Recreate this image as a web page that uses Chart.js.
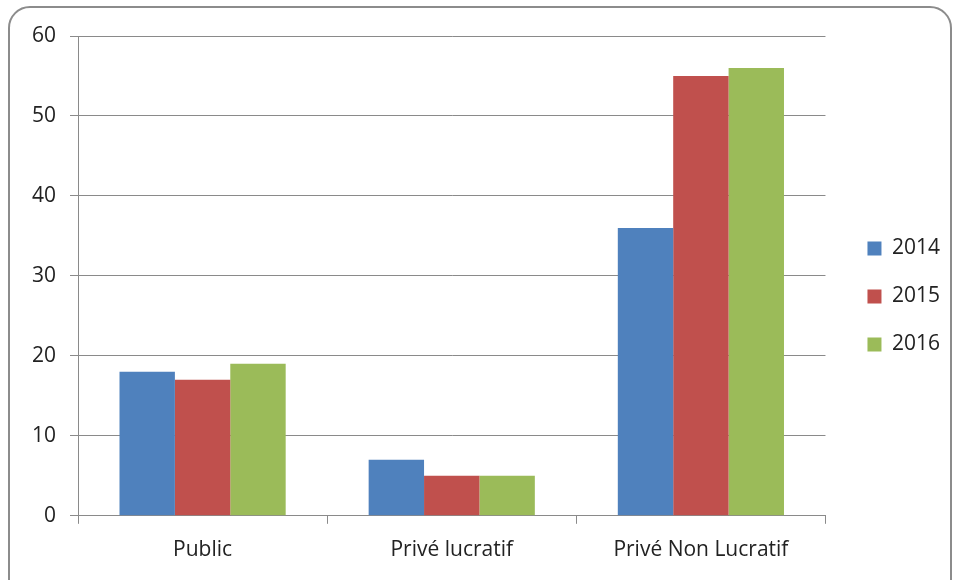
<!DOCTYPE html>
<html>
<head>
<meta charset="utf-8">
<script src="https://cdn.jsdelivr.net/npm/chart.js@4"></script>
<style>
  html, body { margin: 0; padding: 0; background: #fff; }
  #wrap { position: relative; width: 957px; height: 580px; overflow: hidden; }
  #frame {
    position: absolute; left: 8px; top: 6px; width: 940px; height: 600px;
    border: 2px solid #8c8c8c; border-radius: 22px; pointer-events: none;
  }
  canvas { position: absolute; left: 0; top: 0; }
</style>
</head>
<body>
<div id="wrap">
  <canvas id="chart" width="957" height="580"></canvas>
  <div id="frame"></div>
</div>
<script>
// categories and series
const categories = ['Public', 'Privé lucratif', 'Privé Non Lucratif'];
const years = ['2014', '2015', '2016'];
const values2014 = [18, 7, 36];
const values2015 = [17, 5, 55];
const values2016 = [19, 5, 56];
const yTicks = [0, 10, 20, 30, 40, 50, 60];

const colors = ['#4F81BD', '#C0504D', '#9BBB59'];
const gridColor = '#8a8a8a';
const fontFamily = '"Open Sans", "Liberation Sans", sans-serif';

// nudge the legend a bit further from the plot, like the Excel original
const legendShift = {
    id: 'legendShift',
    afterUpdate(chart) {
        const l = chart.legend;
        if (!l) return;
        l.left += 15;
        l.right += 15;
        l.top -= 10;
        l.bottom -= 10;
    }
};

const ctx = document.getElementById('chart').getContext('2d');
new Chart(ctx, {
    type: 'bar',
    data: {
        labels: categories,
        datasets: [values2014, values2015, values2016].map((vals, i) => ({
            label: years[i],
            data: vals,
            backgroundColor: colors[i],
            borderWidth: 0,
            categoryPercentage: 0.667,
            barPercentage: 1.0
        }))
    },
    options: {
        responsive: false,
        animation: false,
        layout: {
            padding: { left: 18, top: 36, right: 22, bottom: 3 }
        },
        plugins: {
            tooltip: { enabled: false },
            legend: {
                position: 'right',
                labels: {
                    color: '#222',
                    font: { family: fontFamily, size: 21 },
                    boxWidth: 14,
                    boxHeight: 14,
                    padding: 27
                }
            }
        },
        scales: {
            x: {
                offset: true,
                grid: {
                    offset: true,
                    drawOnChartArea: false,
                    tickLength: 8,
                    color: gridColor
                },
                border: { color: gridColor, width: 1 },
                ticks: {
                    color: '#222',
                    padding: 14,
                    font: { family: fontFamily, size: 21 }
                }
            },
            y: {
                min: 0,
                max: 60,
                afterBuildTicks: axis => {
                    axis.ticks = yTicks.map(v => ({ value: v }));
                },
                grid: {
                    color: gridColor,
                    tickLength: 8
                },
                border: { color: gridColor, width: 1 },
                ticks: {
                    color: '#222',
                    padding: 14,
                    font: { family: fontFamily, size: 21 }
                }
            }
        }
    },
    plugins: [legendShift]
});
</script>
</body>
</html>
